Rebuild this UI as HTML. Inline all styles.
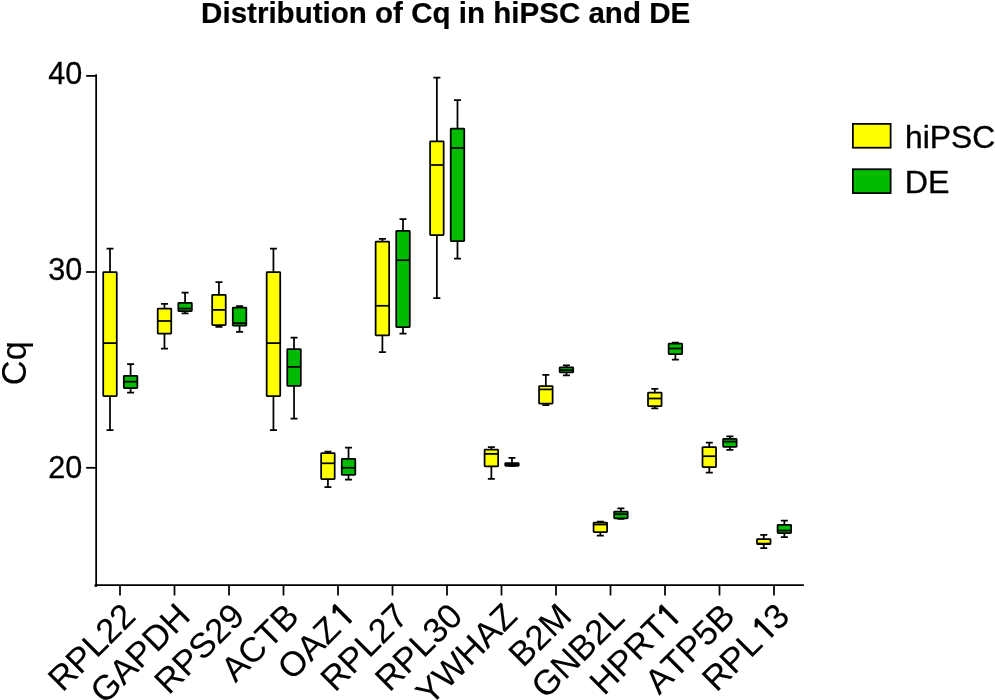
<!DOCTYPE html>
<html lang="en"><head><meta charset="utf-8"><title>Distribution of Cq in hiPSC and DE</title>
<style>
html,body{margin:0;padding:0;background:#fff;}
body{width:995px;height:700px;overflow:hidden;}
svg{display:block;will-change:transform;font-family:"Liberation Sans",sans-serif;}
svg text{fill:#000;font-kerning:none;stroke:#000;stroke-width:0.35px;}
.ln{stroke:#000;stroke-width:1.75;fill:none;stroke-linecap:butt;stroke-linejoin:miter}
</style></head><body>
<svg width="995" height="700" viewBox="0 0 995 700">
<rect width="995" height="700" fill="#fff"/>
<g class="ln">
<path d="M96.15 75.2V585.1H803.0" stroke-linecap="square"/><circle cx="95.85" cy="585.5" r="1.5" fill="#000" stroke="none"/><path d="M86.15 75.9H96.15"/><path d="M86.15 272.0H96.15"/><path d="M86.15 467.8H96.15"/><path d="M120.00 585.1V595.5"/><path d="M174.50 585.1V595.5"/><path d="M229.00 585.1V595.5"/><path d="M283.50 585.1V595.5"/><path d="M338.00 585.1V595.5"/><path d="M392.50 585.1V595.5"/><path d="M447.00 585.1V595.5"/><path d="M501.50 585.1V595.5"/><path d="M556.00 585.1V595.5"/><path d="M610.50 585.1V595.5"/><path d="M665.00 585.1V595.5"/><path d="M719.50 585.1V595.5"/><path d="M774.00 585.1V595.5"/>
</g>
<g class="ln">
<path d="M110.00 248.70V430.00M106.50 248.70h7.0M106.50 430.00h7.0" /><rect x="103.22" y="272.20" width="13.55" height="123.80" fill="#FFFF00" rx="0.6"/><path d="M103.22 343.10h13.55"/>
<path d="M130.60 364.00V392.70M127.10 364.00h7.0M127.10 392.70h7.0" /><rect x="123.82" y="375.80" width="13.55" height="12.40" fill="#00BB00" rx="0.6"/><path d="M123.82 381.70h13.55"/>
<path d="M164.48 303.90V348.60M160.98 303.90h7.0M160.98 348.60h7.0" /><rect x="157.70" y="308.70" width="13.55" height="24.80" fill="#FFFF00" rx="0.6"/><path d="M157.70 321.00h13.55"/>
<path d="M185.08 292.70V313.40M181.58 292.70h7.0M181.58 313.40h7.0" /><rect x="178.31" y="302.90" width="13.55" height="8.30" fill="#00BB00" rx="0.6"/><path d="M178.31 308.60h13.55"/>
<path d="M218.96 282.00V326.80M215.46 282.00h7.0M215.46 326.80h7.0" /><rect x="212.18" y="294.80" width="13.55" height="30.40" fill="#FFFF00" rx="0.6"/><path d="M212.18 309.90h13.55"/>
<path d="M239.56 306.20V331.80M236.06 306.20h7.0M236.06 331.80h7.0" /><rect x="232.78" y="307.50" width="13.55" height="18.20" fill="#00BB00" rx="0.6"/><path d="M232.78 323.10h13.55"/>
<path d="M273.44 248.70V430.00M269.94 248.70h7.0M269.94 430.00h7.0" /><rect x="266.67" y="272.20" width="13.55" height="123.80" fill="#FFFF00" rx="0.6"/><path d="M266.67 343.10h13.55"/>
<path d="M294.04 337.50V418.60M290.54 337.50h7.0M290.54 418.60h7.0" /><rect x="287.27" y="349.10" width="13.55" height="36.70" fill="#00BB00" rx="0.6"/><path d="M287.27 366.90h13.55"/>
<path d="M327.92 451.50V487.20M324.42 451.50h7.0M324.42 487.20h7.0" /><rect x="321.14" y="453.00" width="13.55" height="26.10" fill="#FFFF00" rx="0.6"/><path d="M321.14 463.30h13.55"/>
<path d="M348.52 447.50V479.60M345.02 447.50h7.0M345.02 479.60h7.0" /><rect x="341.75" y="458.80" width="13.55" height="16.10" fill="#00BB00" rx="0.6"/><path d="M341.75 467.80h13.55"/>
<path d="M382.40 238.80V352.10M378.90 238.80h7.0M378.90 352.10h7.0" /><rect x="375.62" y="241.60" width="13.55" height="93.70" fill="#FFFF00" rx="0.6"/><path d="M375.62 305.80h13.55"/>
<path d="M403.00 219.20V333.50M399.50 219.20h7.0M399.50 333.50h7.0" /><rect x="396.23" y="230.80" width="13.55" height="96.20" fill="#00BB00" rx="0.6"/><path d="M396.23 260.20h13.55"/>
<path d="M436.88 77.60V298.00M433.38 77.60h7.0M433.38 298.00h7.0" /><rect x="430.11" y="141.40" width="13.55" height="93.60" fill="#FFFF00" rx="0.6"/><path d="M430.11 165.00h13.55"/>
<path d="M457.48 100.00V258.60M453.98 100.00h7.0M453.98 258.60h7.0" /><rect x="450.71" y="128.60" width="13.55" height="112.40" fill="#00BB00" rx="0.6"/><path d="M450.71 148.00h13.55"/>
<path d="M491.36 447.20V478.90M487.86 447.20h7.0M487.86 478.90h7.0" /><rect x="484.58" y="449.60" width="13.55" height="16.70" fill="#FFFF00" rx="0.6"/><path d="M484.58 453.90h13.55"/>
<path d="M511.96 457.80V465.80M508.46 457.80h7.0M508.46 465.80h7.0" /><rect x="505.19" y="463.20" width="13.55" height="2.60" fill="#00BB00" rx="0.6"/><path d="M505.19 464.50h13.55"/>
<path d="M545.84 374.90V405.20M542.34 374.90h7.0M542.34 405.20h7.0" /><rect x="539.07" y="386.00" width="13.55" height="17.60" fill="#FFFF00" rx="0.6"/><path d="M539.07 389.40h13.55"/>
<path d="M566.44 365.30V375.40M562.94 365.30h7.0M562.94 375.40h7.0" /><rect x="559.66" y="367.30" width="13.55" height="5.10" fill="#00BB00" rx="0.6"/><path d="M559.66 370.10h13.55"/>
<path d="M600.32 521.50V535.70M596.82 521.50h7.0M596.82 535.70h7.0" /><rect x="593.55" y="522.70" width="13.55" height="9.40" fill="#FFFF00" rx="0.6"/><path d="M593.55 524.50h13.55"/>
<path d="M620.92 508.30V518.90M617.42 508.30h7.0M617.42 518.90h7.0" /><rect x="614.14" y="511.70" width="13.55" height="6.60" fill="#00BB00" rx="0.6"/><path d="M614.14 514.20h13.55"/>
<path d="M654.80 388.90V408.30M651.30 388.90h7.0M651.30 408.30h7.0" /><rect x="648.02" y="392.70" width="13.55" height="13.30" fill="#FFFF00" rx="0.6"/><path d="M648.02 398.50h13.55"/>
<path d="M675.40 342.70V359.50M671.90 342.70h7.0M671.90 359.50h7.0" /><rect x="668.62" y="343.70" width="13.55" height="10.30" fill="#00BB00" rx="0.6"/><path d="M668.62 348.50h13.55"/>
<path d="M709.28 442.50V472.50M705.78 442.50h7.0M705.78 472.50h7.0" /><rect x="702.50" y="447.00" width="13.55" height="20.20" fill="#FFFF00" rx="0.6"/><path d="M702.50 456.20h13.55"/>
<path d="M729.88 436.30V449.80M726.38 436.30h7.0M726.38 449.80h7.0" /><rect x="723.10" y="438.90" width="13.55" height="7.90" fill="#00BB00" rx="0.6"/><path d="M723.10 441.60h13.55"/>
<path d="M763.76 534.90V548.20M760.26 534.90h7.0M760.26 548.20h7.0" /><rect x="756.99" y="539.00" width="13.55" height="5.20" fill="#FFFF00" rx="0.6"/><path d="M756.99 543.60h13.55"/>
<path d="M784.36 520.70V537.00M780.86 520.70h7.0M780.86 537.00h7.0" /><rect x="777.58" y="524.90" width="13.55" height="8.20" fill="#00BB00" rx="0.6"/><path d="M777.58 530.60h13.55"/>
<rect x="852.875" y="123.875" width="37.75" height="23.85" fill="#FFFF00"/><rect x="852.875" y="169.225" width="37.75" height="23.85" fill="#00BB00"/>
</g>
<g>
<text x="82.4" y="83.9" font-size="30.6" text-anchor="end" style="stroke-width:0.3px">40</text>
<text x="82.4" y="279.7" font-size="30.6" text-anchor="end" style="stroke-width:0.3px">30</text>
<text x="82.4" y="478.2" font-size="30.6" text-anchor="end" style="stroke-width:0.3px">20</text>
<text transform="translate(137.40 618.10) rotate(-45)" font-size="34.7" text-anchor="end" style="stroke-width:0.1px">RPL22</text>
<text transform="translate(191.90 618.10) rotate(-45)" font-size="34.7" text-anchor="end" style="stroke-width:0.1px">GAPDH</text>
<text transform="translate(246.40 618.10) rotate(-45)" font-size="34.7" text-anchor="end" style="stroke-width:0.1px">RPS29</text>
<text transform="translate(300.90 618.10) rotate(-45)" font-size="34.7" text-anchor="end" style="stroke-width:0.1px">ACTB</text>
<text transform="translate(357.46 616.04) rotate(-45)" font-size="34.7" text-anchor="end" style="stroke-width:0.1px">OAZ<tspan font-family="NanumGothic, sans-serif" font-weight="bold" font-size="32.7" style="stroke-width:0" dx="1.5">1</tspan></text>
<text transform="translate(409.90 618.10) rotate(-45)" font-size="34.7" text-anchor="end" style="stroke-width:0.1px">RPL27</text>
<text transform="translate(464.40 618.10) rotate(-45)" font-size="34.7" text-anchor="end" style="stroke-width:0.1px">RPL30</text>
<text transform="translate(518.90 618.10) rotate(-45)" font-size="34.7" text-anchor="end" style="stroke-width:0.1px">YWHAZ</text>
<text transform="translate(573.40 618.10) rotate(-45)" font-size="34.7" text-anchor="end" style="stroke-width:0.1px">B2M</text>
<text transform="translate(626.30 619.50) rotate(-45)" font-size="34.7" text-anchor="end" style="stroke-width:0.1px">GNB2L</text>
<text transform="translate(684.05 616.45) rotate(-45)" font-size="34.7" text-anchor="end" style="stroke-width:0.1px">HPRT<tspan font-family="NanumGothic, sans-serif" font-weight="bold" font-size="32.7" style="stroke-width:0" dx="-1.2">1</tspan></text>
<text transform="translate(736.90 618.10) rotate(-45)" font-size="34.7" text-anchor="end" style="stroke-width:0.1px">ATP5B</text>
<text transform="translate(791.40 618.10) rotate(-45)" font-size="34.7" text-anchor="end" style="stroke-width:0.1px">RPL<tspan font-family="NanumGothic, sans-serif" font-weight="bold" font-size="32.7" style="stroke-width:0" dx="1.8">1</tspan><tspan dx="-2.3">3</tspan></text>
<text transform="translate(26.1 363.2) rotate(-90) scale(0.96 1)" font-size="35.8" text-anchor="middle" style="stroke-width:0.1px">Cq</text>
<text x="445.65" y="22.5" font-size="29.56" font-weight="bold" text-anchor="middle" style="stroke-width:0.2px">Distribution of Cq in hiPSC and DE</text>
<text x="905.1" y="147.9" font-size="31.8">hiPSC</text>
<text x="904.8" y="193.1" font-size="32.2">DE</text>
</g>
</svg>
</body></html>
